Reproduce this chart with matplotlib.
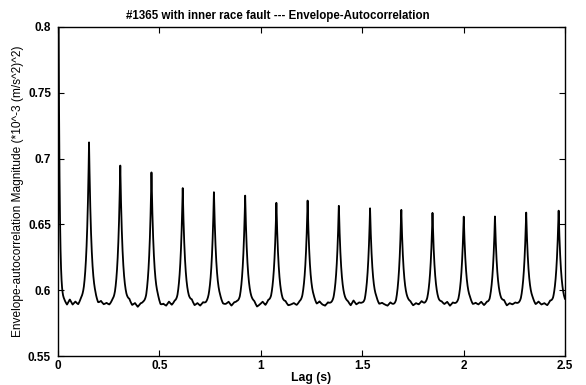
import matplotlib
matplotlib.use("Agg")
import matplotlib.pyplot as plt
import numpy as np

# Peak positions (s) and heights
peak_lags = [0.0, 0.153, 0.307, 0.461, 0.615, 0.769, 0.923, 1.077, 1.231,
             1.385, 1.539, 1.693, 1.847, 2.001, 2.155, 2.309, 2.469]
peak_vals = [0.95, 0.714, 0.698, 0.693, 0.681, 0.677, 0.675, 0.670, 0.670,
             0.668, 0.665, 0.666, 0.662, 0.659, 0.659, 0.662, 0.664]

# baseline wiggles between peaks, 8 readings per gap
baseline_vals = [
    [0.592, 0.589, 0.593, 0.589, 0.591, 0.588, 0.590, 0.588],
    [0.590, 0.588, 0.591, 0.589, 0.590, 0.588, 0.589, 0.587],
    [0.589, 0.591, 0.588, 0.590, 0.587, 0.589, 0.588, 0.585],
    [0.590, 0.587, 0.589, 0.588, 0.591, 0.588, 0.589, 0.586],
    [0.589, 0.591, 0.588, 0.590, 0.588, 0.590, 0.588, 0.587],
    [0.590, 0.588, 0.589, 0.591, 0.588, 0.590, 0.589, 0.586],
    [0.589, 0.590, 0.587, 0.589, 0.591, 0.588, 0.590, 0.587],
    [0.588, 0.590, 0.588, 0.589, 0.590, 0.588, 0.589, 0.587],
    [0.590, 0.588, 0.591, 0.589, 0.588, 0.590, 0.588, 0.586],
    [0.589, 0.590, 0.588, 0.592, 0.589, 0.590, 0.588, 0.585],
    [0.590, 0.588, 0.590, 0.589, 0.588, 0.590, 0.587, 0.584],
    [0.589, 0.590, 0.588, 0.590, 0.589, 0.591, 0.588, 0.586],
    [0.588, 0.590, 0.589, 0.591, 0.588, 0.590, 0.588, 0.586],
    [0.590, 0.588, 0.590, 0.589, 0.591, 0.588, 0.589, 0.586],
    [0.589, 0.591, 0.588, 0.590, 0.589, 0.590, 0.588, 0.586],
    [0.590, 0.588, 0.591, 0.589, 0.590, 0.588, 0.590, 0.587],
]
gap_fracs = [0.20, 0.29, 0.38, 0.47, 0.56, 0.65, 0.74, 0.83]
end_lag, end_val = 2.5, 0.588

# build the trace: baseline readings + sharp peaks
bl_x, bl_y = [], []
for k, vals in enumerate(baseline_vals):
    a, b = peak_lags[k], peak_lags[k + 1]
    for f, v in zip(gap_fracs, vals):
        bl_x.append(a + f * (b - a))
        bl_y.append(v)
bl_x.append(end_lag)
bl_y.append(end_val)
bl_x, bl_y = np.array(bl_x), np.array(bl_y)

lag = np.linspace(0, 2.5, 6000)
base = np.interp(lag, bl_x, bl_y)
trace = base.copy()
for i, (p, h) in enumerate(zip(peak_lags, peak_vals)):
    tau = 0.0056 if i == 0 else 0.012
    trace += (h - 0.590) * np.exp(-np.abs(lag - p) / tau)

fig = plt.figure(figsize=(5.86, 3.85), dpi=100)
ax = fig.add_axes([0.099, 0.075, 0.865, 0.855])
ax.plot(lag, trace, color="black", lw=1.3)

ax.set_xlim(0, 2.5)
ax.set_ylim(0.55, 0.8)
ax.set_xticks([0, 0.5, 1, 1.5, 2, 2.5])
ax.set_xticklabels(["0", "0.5", "1", "1.5", "2", "2.5"])
ax.set_yticks([0.55, 0.6, 0.65, 0.7, 0.75, 0.8])
ax.set_yticklabels(["0.55", "0.6", "0.65", "0.7", "0.75", "0.8"])
ax.tick_params(direction="in", top=True, right=True, length=4, width=0.8,
               labelsize=8.5)
ax.tick_params(axis="y", pad=5)
ax.tick_params(axis="x", pad=3)
for lbl in ax.get_xticklabels() + ax.get_yticklabels():
    lbl.set_fontweight("bold")
    lbl.set_family("Liberation Sans")
for s in ax.spines.values():
    s.set_linewidth(1.0)

ax.set_title("#1365 with inner race fault --- Envelope-Autocorrelation",
             fontsize=8.3, fontweight="bold", family="Liberation Sans",
             x=0.434, pad=6)
ax.set_xlabel("Lag (s)", fontsize=8.8, fontweight="bold",
              family="Liberation Sans", labelpad=0)
ax.set_ylabel("Envelope-autocorrelation Magnitude (*10^-3 (m/s^2)^2)",
              fontsize=8.6, family="Liberation Sans", labelpad=3)

fig.savefig("out.png", dpi=100)
